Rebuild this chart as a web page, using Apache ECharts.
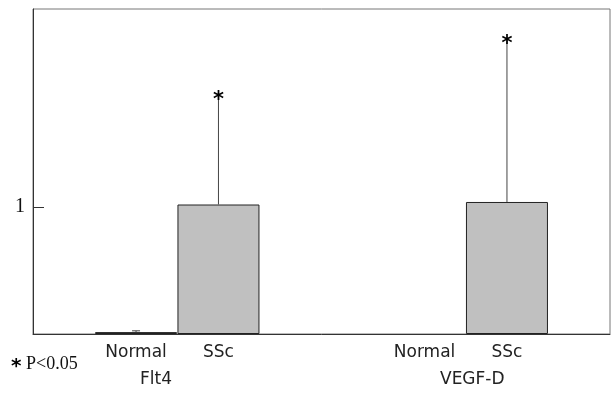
<!DOCTYPE html>
<html>
<head>
<meta charset="utf-8">
<script src="https://cdn.jsdelivr.net/npm/echarts@6/dist/echarts.min.js"></script>
<style>
  html, body { margin: 0; padding: 0; background: #fff; }
  #chart { width: 614px; height: 399px; }
</style>
</head>
<body>
<div id="chart"></div>
<script>
// bar labels and their slot on the half-bar grid (14 slots across the plot)
const barLabels = ["Normal", "SSc", "Normal", "SSc"];
const barSlots = [2, 4, 9, 11];
const groupNames = ["Flt4", "VEGF-D"];
const means = [0.015, 1.02, 0, 1.04];
const errorTops = [0.025, 1.87, 0, 2.31];
const significant = [false, true, false, true];
const yTicks = [1];
const slotCount = 14;

const categories = [];
const barData = [];
for (let i = 0; i < slotCount; i += 1) {
  const k = barSlots.indexOf(i);
  categories.push(k >= 0 ? barLabels[k] : "");
  barData.push(k >= 0 && means[k] > 0 ? means[k] : "-");
}
const errData = barSlots
  .map((slot, k) => [slot, means[k], errorTops[k], significant[k] ? 1 : 0])
  .filter((d) => d[2] > 0);

const chart = echarts.init(document.getElementById("chart"));
chart.setOption({
  animation: false,
  grid: { left: 33, right: 4, top: 9, bottom: 65, show: true, borderColor: "#777", borderWidth: 1 },
  xAxis: {
    type: "category",
    data: categories,
    axisLine: { lineStyle: { color: "#333", width: 1 } },
    axisTick: { show: false },
    axisLabel: { interval: 0, margin: 10, fontFamily: "DejaVu Sans", fontSize: 17, color: "#222" },
  },
  yAxis: {
    type: "value",
    min: 0,
    max: 2.56,
    interval: 1,
    splitLine: { show: false },
    axisLine: { show: true, lineStyle: { color: "#333", width: 1 } },
    axisTick: { show: true, inside: true, length: 11, customValues: yTicks, lineStyle: { color: "#333" } },
    axisLabel: { customValues: yTicks, margin: 8, fontFamily: "Liberation Serif", fontSize: 20, color: "#111" },
  },
  series: [
    {
      type: "bar",
      data: barData,
      barWidth: 82,
      itemStyle: { color: "#c0c0c0", borderColor: "#222", borderWidth: 1 },
      z: 2,
    },
    {
      type: "custom",
      data: errData,
      z: 3,
      renderItem: (params, api) => {
        const base = api.coord([api.value(0), api.value(1)]);
        const top = api.coord([api.value(0), api.value(2)]);
        const children = [
          { type: "line", shape: { x1: base[0], y1: base[1], x2: top[0], y2: top[1] }, style: { stroke: "#444", lineWidth: 1 } },
        ];
        if (api.value(3)) {
          children.push({
            type: "text",
            style: { text: "*", x: top[0], y: top[1] + 4, align: "center", verticalAlign: "middle", font: "bold 21px 'DejaVu Sans'", fill: "#000" },
          });
        } else {
          children.push({ type: "line", shape: { x1: top[0] - 4, y1: top[1], x2: top[0] + 4, y2: top[1] }, style: { stroke: "#444", lineWidth: 1 } });
        }
        return { type: "group", children };
      },
    },
  ],
  graphic: [
    { type: "text", left: 140, top: 371, style: { text: groupNames[0], font: "17px 'DejaVu Sans'", fill: "#222" } },
    { type: "text", left: 440, top: 371, style: { text: groupNames[1], font: "17px 'DejaVu Sans'", fill: "#222" } },
    { type: "text", left: 11, top: 357, style: { text: "*", font: "bold 20px 'DejaVu Sans'", fill: "#000" } },
    { type: "text", left: 26, top: 355, style: { text: "P<0.05", font: "18px 'Liberation Serif'", fill: "#111" } },
  ],
});
</script>
</body>
</html>
